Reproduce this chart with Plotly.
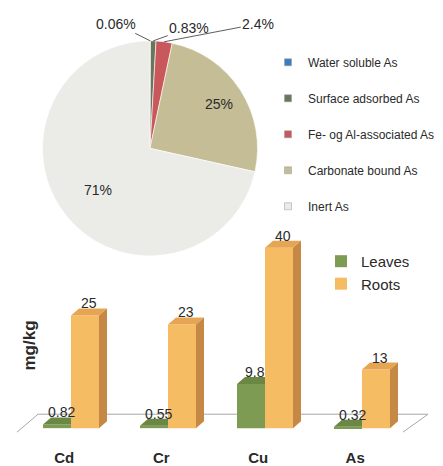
import math
import plotly.graph_objects as go

# Arsenic fractionation in soil (percent of total As)
fractions = ["Water soluble As", "Surface adsorbed As", "Fe- og Al-associated As",
             "Carbonate bound As", "Inert As"]
fraction_pct = [0.06, 0.83, 2.4, 25, 71]
fraction_colors = ["#3d7cc0", "#68765a", "#c8585b", "#c4bd95", "#ebece8"]

# Metal concentrations in plant tissue (mg/kg)
metals = ["Cd", "Cr", "Cu", "As"]
leaves = [0.82, 0.55, 9.8, 0.32]
roots = [25, 23, 40, 13]

W, H = 443, 466
FONT = "Arial, Liberation Sans, sans-serif"
TXT = "#2a2a2a"

# ---- pie geometry (pixels) ----
PCX, PCY, PR = 150, 149, 108

# ---- bar panel geometry (pixels) ----
BAR_TOP_PX, BAR_BOT_PX = 233, 449
ZERO_PX, PX_PER_UNIT = 430, 4.53
X0_PX, PX_PER_CAT = 71, 97
BAR_W = 28 / PX_PER_CAT
DX, DY = 8 / PX_PER_CAT, 7 / PX_PER_UNIT   # depth offset of the 3-D faces


def px_to_x(px):
    return (px - X0_PX) / PX_PER_CAT


def px_to_y(py):
    return (ZERO_PX - py) / PX_PER_UNIT


fig = go.Figure()

# ---- pie ----
pie_text = [f"{v:g}%" for v in fraction_pct]
fig.add_trace(go.Pie(
    labels=fractions, values=fraction_pct, text=pie_text,
    textinfo="none",
    sort=False, direction="clockwise", rotation=0,
    marker=dict(colors=fraction_colors, line=dict(color="white", width=0.6)),
    domain=dict(x=[(PCX - PR) / W, (PCX + PR) / W],
                y=[1 - (PCY + PR) / H, 1 - (PCY - PR) / H]),
    showlegend=False, hoverinfo="label+percent",
))

# legend entries for the pie fractions
for name, col in zip(fractions, fraction_colors):
    fig.add_trace(go.Scatter(
        x=[None], y=[None], mode="markers", name=name, legend="legend",
        legendgroup=name,
        marker=dict(symbol="square", size=7, color=col,
                    line=dict(color="#9a9a9a", width=0.5)),
    ))

# slice labels: leader lines for the three small slices, inside for the big ones
total = sum(fraction_pct)
label_offsets = [(-34, -17), (36, -13), (94, -18)]
inside_radius = [None, None, None, 0.76, 0.62]
cum = 0.0
for i, v in enumerate(fraction_pct):
    mid = 2 * math.pi * (cum + v / 2) / total
    cum += v
    if i < len(label_offsets):
        ex = (PCX + PR * math.sin(mid)) / W
        ey = 1 - (PCY - PR * math.cos(mid)) / H
        ax, ay = label_offsets[i]
        fig.add_annotation(
            x=ex, y=ey, xref="paper", yref="paper", text=pie_text[i],
            showarrow=True, arrowhead=0, arrowwidth=0.8, arrowcolor="#333",
            ax=ax, ay=ay, font=dict(family=FONT, size=14, color=TXT),
        )
    else:
        rf = inside_radius[i]
        fig.add_annotation(
            x=(PCX + rf * PR * math.sin(mid)) / W,
            y=1 - (PCY - rf * PR * math.cos(mid)) / H,
            xref="paper", yref="paper", text=pie_text[i], showarrow=False,
            xanchor="center", yanchor="middle",
            font=dict(family=FONT, size=14, color=TXT),
        )

# ---- 3-D style bars ----
leaf_front, leaf_top = "#7d9b52", "#6a8744"
root_front, root_top, root_side = "#f6bc63", "#e6a552", "#c68945"

leaf_x = [i - BAR_W / 2 for i in range(len(metals))]
root_x = [i + BAR_W / 2 for i in range(len(metals))]

fig.add_trace(go.Bar(
    x=leaf_x, y=leaves, width=BAR_W, name="Leaves", legend="legend2",
    marker=dict(color=leaf_front, line=dict(width=0)),
))
fig.add_trace(go.Bar(
    x=root_x, y=roots, width=BAR_W, name="Roots", legend="legend2",
    marker=dict(color=root_front, line=dict(width=0)),
))


def faces(xc, vals, kind, clip_right=False):
    xs, ys = [], []
    for c, v in zip(xc, vals):
        x0, x1 = c - BAR_W / 2, c + BAR_W / 2
        if kind == "top":
            xr = x1 if clip_right else x1 + DX
            xs += [x0, x0 + DX, xr, x1, x0, None]
            ys += [v, v + DY, v + DY, v, v, None]
        else:
            xs += [x1, x1, x1 + DX, x1 + DX, x1, None]
            ys += [0, v, v + DY, DY, 0, None]
    return xs, ys


for xc, vals, kind, col, clip in [
    (leaf_x, leaves, "top", leaf_top, True),
    (root_x, roots, "top", root_top, False),
    (root_x, roots, "side", root_side, False),
]:
    fx, fy = faces(xc, vals, kind, clip)
    fig.add_trace(go.Scatter(
        x=fx, y=fy, mode="lines", fill="toself", fillcolor=col,
        line=dict(width=0, color=col), showlegend=False, hoverinfo="skip",
    ))

# value labels sit on the back edge of each top face
for xc, vals in [(leaf_x, leaves), (root_x, roots)]:
    for c, v in zip(xc, vals):
        fig.add_annotation(
            x=c + DX / 2, y=v + DY, xref="x", yref="y", text=f"{v:g}",
            showarrow=False, xanchor="center", yanchor="bottom", yshift=-5,
            font=dict(family=FONT, size=14, color=TXT),
        )

# floor of the 3-D plot
floor = dict(fl=(17, 434), bl=(38, 416), br=(428, 416), fr=(403, 434))
fx = {k: px_to_x(p[0]) for k, p in floor.items()}
fy = {k: px_to_y(p[1]) for k, p in floor.items()}
for a, b in [("fl", "bl"), ("bl", "br"), ("br", "fr")]:
    fig.add_shape(type="line", x0=fx[a], y0=fy[a], x1=fx[b], y1=fy[b],
                  xref="x", yref="y", layer="below",
                  line=dict(color="#a8a8a8", width=1))

fig.add_annotation(
    x=30 / W, y=1 - 347 / H, xref="paper", yref="paper", text="<b>mg/kg</b>",
    textangle=-90, showarrow=False, xanchor="center", yanchor="middle",
    font=dict(family=FONT, size=17, color=TXT),
)

fig.update_layout(
    width=W, height=H, margin=dict(l=0, r=0, t=0, b=0),
    paper_bgcolor="white", plot_bgcolor="rgba(0,0,0,0)",
    barmode="overlay", font=dict(family=FONT, color=TXT),
    xaxis=dict(domain=[0, 1], range=[px_to_x(0), px_to_x(W)],
               tickvals=[i - 0.07 for i in range(len(metals))], ticktext=metals,
               tickfont=dict(family=FONT, size=15, color=TXT, weight="bold"),
               showgrid=False, zeroline=False, showline=False, ticks=""),
    yaxis=dict(domain=[1 - BAR_BOT_PX / H, 1 - BAR_TOP_PX / H],
               range=[px_to_y(BAR_BOT_PX), px_to_y(BAR_TOP_PX)],
               visible=False),
    legend=dict(x=268 / W, y=1 - 48 / H, xanchor="left", yanchor="top",
                font=dict(family=FONT, size=12, color=TXT),
                bgcolor="rgba(0,0,0,0)", tracegroupgap=17, itemwidth=30),
    legend2=dict(x=321 / W, y=1 - 246 / H, xanchor="left", yanchor="top",
                 font=dict(family=FONT, size=15, color=TXT),
                 bgcolor="rgba(0,0,0,0)", tracegroupgap=4, itemwidth=30),
)

fig.write_html("out.html")
